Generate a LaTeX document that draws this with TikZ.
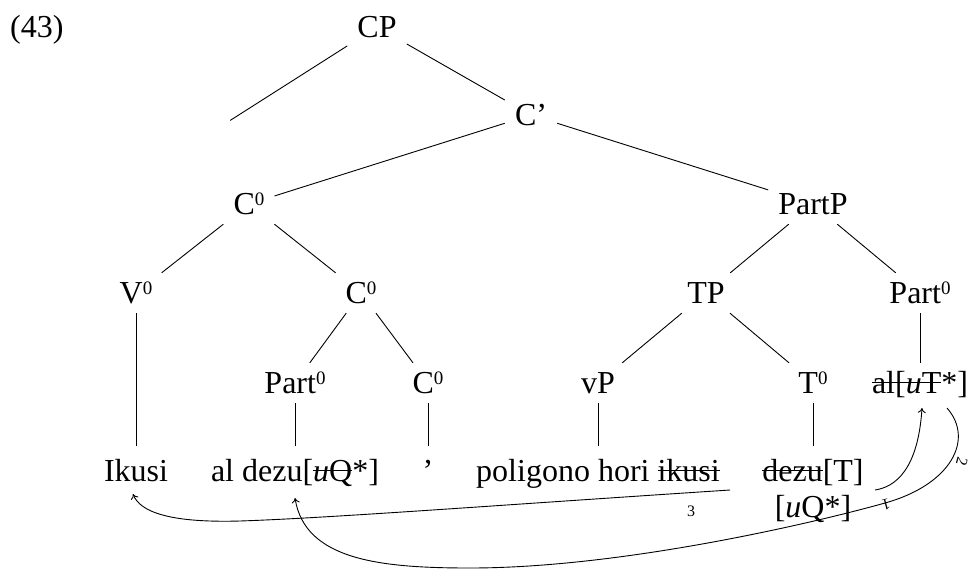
\documentclass[tikz,border=0pt]{standalone}
\usepackage{fontspec}
\setmainfont{Liberation Serif}
\usetikzlibrary{arrows.meta}
\newsavebox{\strkbox}
\newcommand{\strk}[1]{\sbox{\strkbox}{#1}\rlap{\rule[10pt]{\wd\strkbox}{1.1pt}}\usebox{\strkbox}}
\newcommand{\zs}{\raisebox{9pt}{\fontsize{19}{19}\selectfont 0}}
\begin{document}
\begin{tikzpicture}[x=1pt,y=-1pt, font=\fontsize{32}{35}\selectfont,
  tn/.style={anchor=base, inner xsep=10pt, inner ysep=8pt, text height=22pt, text depth=2pt},
  leaf/.style={anchor=base, inner xsep=4pt, inner ysep=13pt, text height=22pt, text depth=7pt},
  edge/.style={line width=0.9pt},
  mv/.style={line width=0.9pt, -{To[length=5pt,width=8pt]}},
  lab/.style={font=\fontsize{16}{16}\selectfont, inner sep=0pt}]
\useasboundingbox (0,0) rectangle (971,570);
% tree nodes
\node[anchor=base west, inner sep=0pt] (ex) at (10,37) {(43)};
\node[tn] (CP) at (377,37) {CP};
\node[inner sep=7pt] (spec) at (223,125) {};
\node[tn] (Cb) at (531,125) {C’};
\node[tn] (C0a) at (249,214) {C\zs};
\node[tn] (PartP) at (813,214) {PartP};
\node[tn] (V0) at (136,303) {V\zs};
\node[tn] (C0b) at (361,303) {C\zs};
\node[tn] (TP) at (706,303) {TP};
\node[tn] (Pa0r) at (920,303) {Part\zs};
\node[tn] (Pa0l) at (295,393) {Part\zs};
\node[tn] (C0c) at (428,393) {C\zs};
\node[tn] (vP) at (598,393) {vP};
\node[tn] (T0) at (813,393) {T\zs};
\node[tn] (alT) at (920,393) {\strk{al[\textit{u}T}*]};
% leaves
\node[leaf] (ik) at (136,481) {Ikusi};
\node[leaf] (ald) at (295,481) {al dezu[\strk{\textit{u}Q}*]};
\node[leaf] (cm) at (428,481) {’};
\node[leaf] (pol) at (598,481) {poligono hori \strk{ikusi}};
\node[leaf] (dz) at (813,481) {\strk{dezu}[T]};
\node[anchor=base, inner sep=0pt] (uq) at (813,517) {[\textit{u}Q*]};
% edges
\draw[edge] (CP) -- (spec);
\draw[edge] (CP) -- (Cb);
\draw[edge] (Cb) -- (C0a);
\draw[edge] (Cb) -- (PartP);
\draw[edge] (C0a) -- (V0);
\draw[edge] (C0a) -- (C0b);
\draw[edge] (PartP) -- (TP);
\draw[edge] (PartP) -- (Pa0r);
\draw[edge] (C0b) -- (Pa0l);
\draw[edge] (C0b) -- (C0c);
\draw[edge] (TP) -- (vP);
\draw[edge] (TP) -- (T0);
\draw[edge] (Pa0r) -- (alT);
\draw[edge] (V0) -- (ik);
\draw[edge] (Pa0l) -- (ald);
\draw[edge] (C0c) -- (cm);
\draw[edge] (vP) -- (pol);
\draw[edge] (T0) -- (dz);
% movement arrows
\coordinate (a1s) at (875,490);
\coordinate (a1t) at (922,408);
\draw[mv] (a1s) .. controls (895,487) and (918,470) .. (a1t);
\coordinate (a2s) at (947,408);
\coordinate (a2t) at (295,498);
\draw[mv] (a2s) .. controls (975,440) and (950,485) .. (885,503)
  .. controls (810,524) and (620,568) .. (470,568)
  .. controls (380,568) and (305,560) .. (a2t);
\coordinate (a3s) at (730,490);
\coordinate (a3t) at (133,494);
\draw[mv] (a3s) .. controls (500,505) and (330,518) .. (240,521)
  .. controls (170,523) and (140,512) .. (a3t);
% arrow labels
\node[lab, rotate=-165] (l1) at (886,505) {1};
\node[lab, rotate=-105] (l2) at (962,462) {2};
\node[lab] (l3) at (691,511) {3};
\end{tikzpicture}
\end{document}
